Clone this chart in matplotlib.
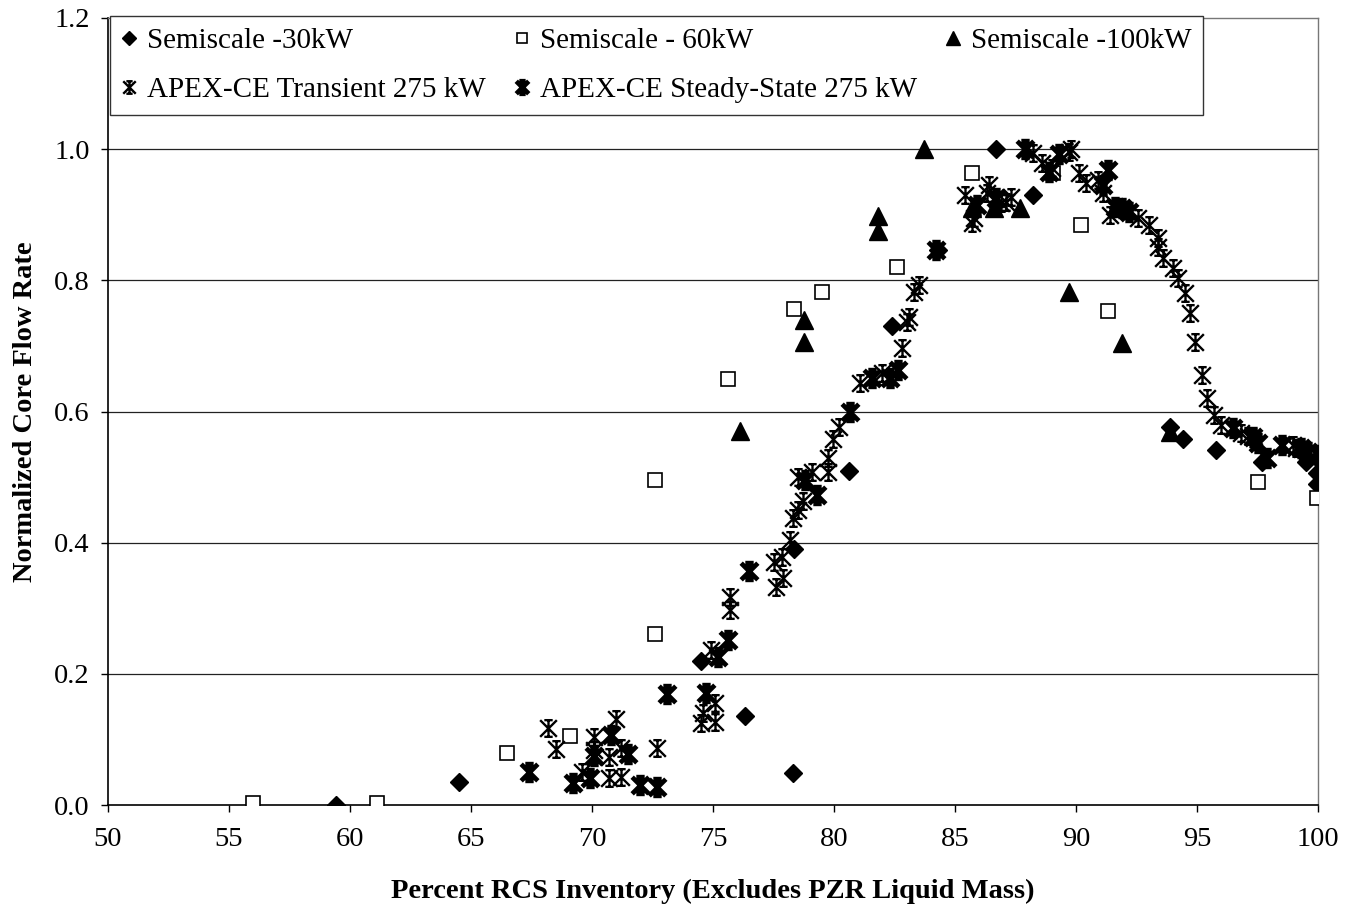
import numpy as np
import matplotlib
matplotlib.use("Agg")
import matplotlib.pyplot as plt
from matplotlib.path import Path

plt.rcParams.update({
    "font.family": ["Liberation Serif", "DejaVu Serif"],
    "font.size": 20,
})

# Semiscale -30kW (filled diamonds)
semi30_x = [59.4, 64.5, 78.3, 76.3, 74.5, 78.35, 80.6, 82.4, 84.3, 86.7, 88.2,
            93.9, 94.4, 95.8, 97.7, 99.5, 99.95, 99.95]
semi30_y = [0.0, 0.035, 0.049, 0.135, 0.22, 0.39, 0.51, 0.73, 0.846, 1.0, 0.93,
            0.576, 0.558, 0.541, 0.523, 0.523, 0.506, 0.489]

# Semiscale - 60kW (open squares)
semi60_x = [56.0, 61.1, 66.5, 69.1, 72.6, 72.6, 75.6, 78.35, 79.5, 82.6, 85.7,
            89.05, 90.2, 91.3, 97.5, 99.95]
semi60_y = [0.003, 0.003, 0.08, 0.105, 0.26, 0.495, 0.65, 0.756, 0.782, 0.82, 0.963,
            0.963, 0.885, 0.754, 0.492, 0.468]

# Semiscale -100kW (filled triangles)
semi100_x = [76.1, 78.76, 78.76, 81.8, 81.8, 83.7, 85.7, 86.6, 87.7, 89.7, 91.9,
             93.9, 99.95]
semi100_y = [0.57, 0.739, 0.706, 0.898, 0.875, 1.0, 0.91, 0.91, 0.91, 0.782, 0.704,
             0.569, 0.533]

# APEX-CE Transient 275 kW
trans_x = [68.2, 68.5, 69.6, 70.1, 70.1, 70.7, 70.7, 71.0, 71.2, 71.2, 72.7,
           74.6, 74.5, 75.1, 75.1, 74.9, 75.7, 75.7, 77.6, 77.9, 77.5, 77.85,
           78.2, 78.3, 78.5, 78.7, 78.5, 79.1, 79.75, 79.75, 79.96, 80.2, 81.07,
           82.0, 82.8, 83.0, 83.1, 83.3, 83.5, 85.4, 85.7, 85.8, 86.4, 86.3,
           86.9, 87.3, 87.1, 88.2, 88.6, 89.0, 89.8, 89.7, 90.1, 90.4, 90.9,
           91.1, 91.4, 92.56, 93.0, 93.4, 93.4, 93.6, 94.0, 94.2, 94.5, 94.7,
           94.9, 95.2, 95.4, 95.7, 96.0, 96.8, 97.1, 98.97, 99.1]
trans_y = [0.118, 0.085, 0.050, 0.104, 0.084, 0.073, 0.041, 0.131, 0.043, 0.087, 0.087,
           0.140, 0.125, 0.127, 0.156, 0.236, 0.317, 0.297, 0.333, 0.346, 0.370, 0.378,
           0.404, 0.437, 0.450, 0.463, 0.500, 0.508, 0.507, 0.529, 0.558, 0.576, 0.643,
           0.659, 0.697, 0.736, 0.744, 0.782, 0.793, 0.930, 0.887, 0.895, 0.945, 0.933,
           0.918, 0.927, 0.919, 0.994, 0.979, 0.971, 1.0, 0.995, 0.963, 0.948, 0.953,
           0.933, 0.899, 0.895, 0.884, 0.864, 0.851, 0.834, 0.819, 0.803, 0.780, 0.750,
           0.706, 0.656, 0.620, 0.594, 0.579, 0.567, 0.562, 0.549, 0.545]

# APEX-CE Steady-State 275 kW
steady_x = [67.4, 69.2, 69.9, 70.1, 70.8, 71.5, 72.0, 72.7, 73.1, 74.7, 75.2,
            75.6, 76.5, 78.8, 79.3, 80.66, 81.57, 82.3, 82.64, 84.2, 85.9, 86.7,
            87.9, 88.9, 89.3, 91.1, 91.3, 91.6, 91.9, 92.2, 96.5, 97.3, 97.5,
            97.9, 98.5, 99.3, 99.6, 100.0]
steady_y = [0.050, 0.034, 0.041, 0.075, 0.107, 0.078, 0.030, 0.027, 0.169, 0.171, 0.226,
            0.252, 0.357, 0.495, 0.473, 0.600, 0.651, 0.651, 0.663, 0.846, 0.915, 0.925,
            1.0, 0.965, 0.992, 0.945, 0.968, 0.912, 0.910, 0.904, 0.575, 0.561, 0.552,
            0.529, 0.549, 0.544, 0.538, 0.533]

# Excel-style star marker: X plus vertical bar with short caps
M, L = Path.MOVETO, Path.LINETO
star = Path(
    [(-1, -1), (1, 1), (-1, 1), (1, -1), (0, -1), (0, 1),
     (-0.5, 1), (0.5, 1), (-0.5, -1), (0.5, -1)],
    [M, L, M, L, M, L, M, L, M, L],
)

fig = plt.figure(figsize=(13.45, 9.09), dpi=100)
ax = fig.add_axes([0.0803, 0.1144, 0.8997, 0.8658])

for y in [0.2, 0.4, 0.6, 0.8, 1.0]:
    ax.axhline(y, color="#222222", lw=0.9, zorder=1)

h1, = ax.plot(semi30_x, semi30_y, ls="none", marker="D", ms=9, color="black", zorder=3)
h2, = ax.plot(semi60_x, semi60_y, ls="none", marker="s", ms=9.5, mfc="white",
              mec="black", mew=1.2, zorder=3)
h3, = ax.plot(semi100_x, semi100_y, ls="none", marker="^", ms=13, color="black", zorder=3)
h4, = ax.plot(trans_x, trans_y, ls="none", marker=star, ms=12, mfc="none",
              mec="black", mew=1.7, zorder=4)
h5, = ax.plot(steady_x, steady_y, ls="none", marker=star, ms=12, mfc="none",
              mec="black", mew=3.4, zorder=4)

ax.set_xlim(50, 100)
ax.set_ylim(0, 1.2)
ax.set_xticks(np.arange(50, 101, 5))
ax.set_yticks(np.arange(0, 1.21, 0.2))
ax.set_yticklabels([f"{v:.1f}" for v in np.arange(0, 1.21, 0.2)])
ax.tick_params(axis="x", direction="out", length=5, width=1, labelsize=20.5, pad=11)
ax.tick_params(axis="y", direction="out", length=5, width=1, labelsize=20.5, pad=8)

for side in ["left", "bottom"]:
    ax.spines[side].set_color("black")
    ax.spines[side].set_linewidth(1.2)
for side in ["top", "right"]:
    ax.spines[side].set_color("#777777")
    ax.spines[side].set_linewidth(1.0)

ax.set_xlabel("Percent RCS Inventory (Excludes PZR Liquid Mass)",
              fontweight="bold", fontsize=20.5, labelpad=19)
ax.set_ylabel("Normalized Core Flow Rate", fontweight="bold", fontsize=20.5, labelpad=12)

leg = ax.legend(
    [h1, h4, h2, h5, h3],
    ["Semiscale -30kW", "APEX-CE Transient 275 kW", "Semiscale - 60kW",
     "APEX-CE Steady-State 275 kW", "Semiscale -100kW"],
    ncol=3, loc="upper left", bbox_to_anchor=(0.002, 1.003, 0.903, 0), mode="expand",
    borderaxespad=0, fancybox=False, framealpha=1, edgecolor="#333333",
    fontsize=21, handlelength=0.5, handletextpad=0.35, labelspacing=0.8,
    borderpad=0.4, markerscale=0.75,
)
leg.get_frame().set_linewidth(1.0)

fig.savefig("out.png", dpi=100)
